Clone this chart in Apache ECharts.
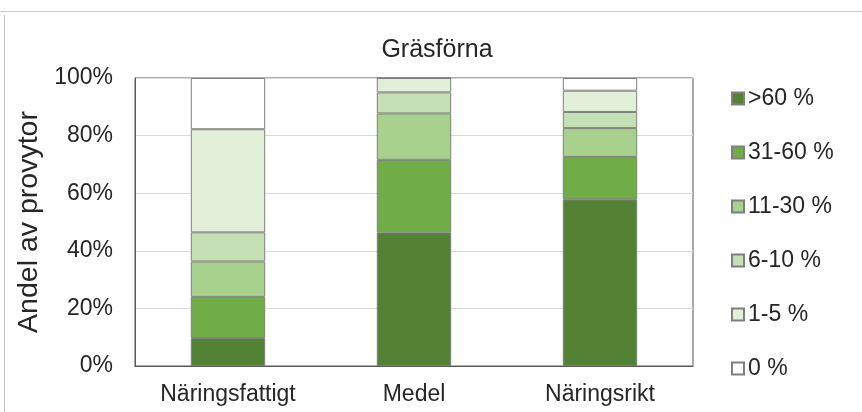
<!DOCTYPE html>
<html>
<head>
<meta charset="utf-8">
<script src="https://cdn.jsdelivr.net/npm/echarts@6/dist/echarts.min.js"></script>
<style>
  html, body { margin: 0; padding: 0; background: #fff; }
  #chart { width: 862px; height: 412px; }
</style>
</head>
<body>
<div id="chart"></div>
<script>
// Nutrient classes along the x axis
const categories = ['Näringsfattigt', 'Medel', 'Näringsrikt'];

// Cover classes of grass litter (legend order, stacked bottom to top)
const coverClasses = ['>60 %', '31-60 %', '11-30 %', '6-10 %', '1-5 %', '0 %'];

// Share of plots (%) per cover class, one value per category
const over60   = [9.7, 46.4, 57.9];
const c31to60  = [14.3, 25.2, 14.7];
const c11to30  = [12.3, 16.1, 10.0];
const c6to10   = [10.1, 7.3, 5.6];
const c1to5    = [35.8, 5.0, 7.4];
const zero     = [17.8, 0.0, 4.4];

const seriesValues = [over60, c31to60, c11to30, c6to10, c1to5, zero];
const seriesColors = ['#548235', '#70ad47', '#a9d18e', '#c5e0b4', '#e2f0d9', '#ffffff'];

const yTicks = [0, 20, 40, 60, 80, 100];

const font = '"Liberation Sans", Arial, sans-serif';
const textColor = '#262626';

const chart = echarts.init(document.getElementById('chart'), null, { renderer: 'canvas' });

chart.setOption({
  animation: false,
  backgroundColor: '#ffffff',
  textStyle: { fontFamily: font },
  title: {
    text: 'Gräsförna',
    left: 432,
    textAlign: 'center',
    top: 33,
    textStyle: { fontFamily: font, fontSize: 25, fontWeight: 'normal', color: textColor }
  },
  grid: {
    left: 135, right: 169, top: 78, bottom: 46,
    show: true, borderColor: '#595959', borderWidth: 1,
    containLabel: false
  },
  legend: {
    orient: 'vertical',
    left: 726,
    top: 82,
    itemWidth: 12,
    itemHeight: 12,
    itemGap: 31,
    icon: 'rect',
    data: coverClasses,
    textStyle: { fontFamily: font, fontSize: 23, lineHeight: 23, color: textColor, padding: [0, 0, 0, -1] },
    selectedMode: false
  },
  xAxis: {
    type: 'category',
    data: categories,
    axisTick: { show: false },
    axisLine: { show: true, lineStyle: { color: '#595959', width: 1 } },
    axisLabel: { fontFamily: font, fontSize: 23, color: textColor, margin: 17 }
  },
  yAxis: {
    type: 'value',
    min: yTicks[0],
    max: yTicks[yTicks.length - 1],
    interval: 20,
    name: 'Andel av provytor',
    nameLocation: 'middle',
    nameGap: 88,
    nameTextStyle: { fontFamily: font, fontSize: 28.5, color: textColor },
    axisLine: { show: true, lineStyle: { color: '#595959', width: 1 } },
    axisTick: { show: false },
    splitLine: { show: true, lineStyle: { color: '#d9d9d9', width: 1 } },
    axisLabel: {
      fontFamily: font, fontSize: 23, color: textColor, margin: 22,
      formatter: v => yTicks.includes(v) ? v + '%' : ''
    }
  },
  series: coverClasses.map((name, i) => ({
    name: name,
    type: 'bar',
    stack: 'total',
    barWidth: '40%',
    data: seriesValues[i],
    itemStyle: { color: seriesColors[i], borderColor: '#7f7f7f', borderWidth: 1 }
  })),
  graphic: [
    // outer frame lines of the figure
    { type: 'line', shape: { x1: 0, y1: 11.5, x2: 862, y2: 11.5 }, style: { stroke: '#c8c8c8', lineWidth: 1 } },
    { type: 'line', shape: { x1: 4.5, y1: 15, x2: 4.5, y2: 412 }, style: { stroke: '#c8c8c8', lineWidth: 1 } }
  ]
});
</script>
</body>
</html>
